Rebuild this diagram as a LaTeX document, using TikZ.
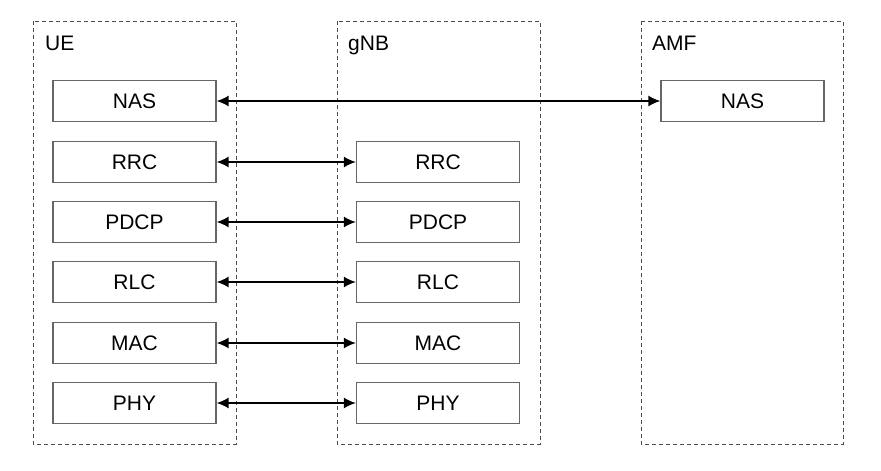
\documentclass[tikz,border=0pt]{standalone}
\usepackage{fontspec}
\setmainfont{Liberation Sans}
\usetikzlibrary{arrows.meta}
\begin{document}
\begin{tikzpicture}[x=1pt,y=-1pt,
  container/.style={draw=black!70,dashed,dash pattern=on 4pt off 3pt,line width=0.9pt},
  layer/.style={draw=black!60,line width=1.2pt,minimum width=163pt,minimum height=41pt,inner sep=0pt,font=\fontsize{21}{25}\selectfont},
  title/.style={anchor=north west,inner sep=0pt,font=\fontsize{21}{25}\selectfont},
  link/.style={{Latex[length=12pt,width=11pt]}-{Latex[length=12pt,width=11pt]},line width=1.8pt,black}]
\useasboundingbox (0,0) rectangle (881,471);
\fill[white] (0,0) rectangle (881,471);
% containers
\draw[container] (33,21) rectangle (236,444);
\draw[container] (337,21) rectangle (540,444);
\draw[container] (641,21) rectangle (843,444);
\node[title] (tUE) at (45,36) {UE};
\node[title] (tgNB) at (348,36) {gNB};
\node[title] (tAMF) at (652,36) {AMF};
% UE stack
\node[layer] (ue1) at (134.5,101) {NAS};
\node[layer] (ue2) at (134.5,162) {RRC};
\node[layer] (ue3) at (134.5,222) {PDCP};
\node[layer] (ue4) at (134.5,282) {RLC};
\node[layer] (ue5) at (134.5,343) {MAC};
\node[layer] (ue6) at (134.5,403) {PHY};
% gNB stack
\node[layer] (g2) at (438,162) {RRC};
\node[layer] (g3) at (438,222) {PDCP};
\node[layer] (g4) at (438,282) {RLC};
\node[layer] (g5) at (438,343) {MAC};
\node[layer] (g6) at (438,403) {PHY};
% AMF
\node[layer] (a1) at (742.5,101) {NAS};
% links
\draw[link] (ue1.east) -- (a1.west);
\draw[link] (ue2.east) -- (g2.west);
\draw[link] (ue3.east) -- (g3.west);
\draw[link] (ue4.east) -- (g4.west);
\draw[link] (ue5.east) -- (g5.west);
\draw[link] (ue6.east) -- (g6.west);
\end{tikzpicture}
\end{document}
